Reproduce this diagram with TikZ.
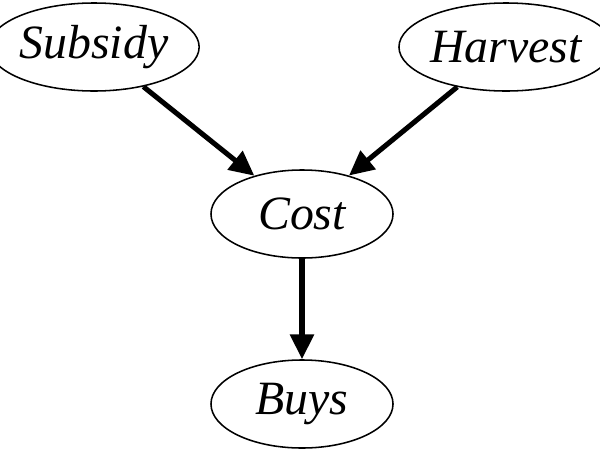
\documentclass[tikz,border=0pt]{standalone}
\usepackage{fontspec}
\setmainfont{Liberation Serif}
\usetikzlibrary{arrows, arrows.meta}
\usetikzlibrary{shapes.geometric}

\tikzset{
  var/.style={ellipse, draw, line width=1.1pt, inner sep=0pt, minimum width=4.55cm, minimum height=2.2cm, font=\fontsize{34}{40}\selectfont\itshape},
  dep/.style={line width=3.6pt, -{Triangle[length=0.62cm, width=0.58cm]}}
}

\begin{document}
\begin{tikzpicture}[x=0.025cm, y=-0.025cm]
      \useasboundingbox (0,0) rectangle (600,449);
      \node[var] (subsidy) at (94,47) {Subsidy};
      \node[var] (harvest) at (506,47) {Harvest};
      \node[var] (cost) at (302,214) {Cost};
      \node[var] (buys) at (302,404) {Buys};

      \draw[dep] (subsidy) -- (cost);
      \draw[dep] (harvest) -- (cost);
      \draw[dep] (cost) -- (buys);
    \end{tikzpicture}
\end{document}
